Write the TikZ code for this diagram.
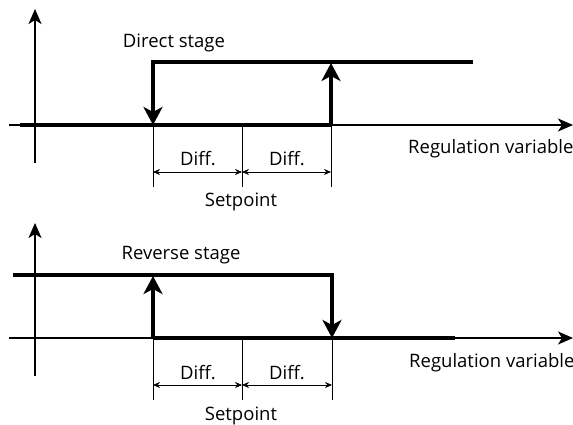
\documentclass[tikz,border=0pt]{standalone}
\usepackage{fontspec}
\setmainfont{Open Sans}
\usetikzlibrary{arrows.meta}

\tikzset{
  axis/.style={line width=1.7pt,-{Stealth[length=15pt,width=13pt,inset=4pt]}},
  stage/.style={line width=3.6pt,line join=miter,-{Stealth[length=18pt,width=19pt,inset=5pt]}},
  level/.style={line width=3.6pt},
  mark line/.style={line width=0.6pt},
  dim/.style={line width=0.6pt,{Stealth[length=7pt,width=6pt]}-{Stealth[length=7pt,width=6pt]}},
  lbl/.style={font=\fontsize{18.5}{21}\selectfont,inner sep=0pt}
}

\begin{document}
\begin{tikzpicture}[x=1pt,y=-1pt]
  \useasboundingbox (0,0) rectangle (573,425);

  % ---- direct stage ----
  \coordinate (dYlo) at (35,163);
  \coordinate (dYhi) at (35,9);
  \coordinate (dXlo) at (9,125);
  \coordinate (dXhi) at (573,125);
  \draw[axis] (dYlo) -- (dYhi);
  \draw[axis] (dXlo) -- (dXhi);
  \coordinate (dOff) at (153,125);
  \coordinate (dSet) at (242,125);
  \coordinate (dOn)  at (331,125);
  \draw[level] (20,125) -- (dOn);
  \draw[stage] (473,62) -- (153,62) -- (dOff);
  \draw[stage] (dOn) -- (331,63);
  % marks
  \foreach \p/\q in {dOff/153,dSet/242,dOn/331}
    \draw[mark line] (\p) -- (\q,187) coordinate (\p b);
  \draw[dim] (153,172) coordinate (dA) -- (242,172) coordinate (dB);
  \draw[dim] (dB) -- (331,172) coordinate (dC);
  \node[lbl] (dDiffA) at (198,159) {Diff.};
  \node[lbl] (dDiffB) at (287,159) {Diff.};
  \node[lbl] (dSetp) at (241,202) {Setpoint};
  \node[lbl] (dTitle) at (174,43) {Direct stage};
  \node[lbl,anchor=west] (dVar) at (408,149) {Regulation variable};

  % ---- reverse stage ----
  \coordinate (rYlo) at (35,376);
  \coordinate (rYhi) at (35,223);
  \coordinate (rXlo) at (9,338);
  \coordinate (rXhi) at (573,338);
  \draw[axis] (rYlo) -- (rYhi);
  \draw[axis] (rXlo) -- (rXhi);
  \coordinate (rOn)  at (153,338);
  \coordinate (rSet) at (242,338);
  \coordinate (rOff) at (332,338);
  \draw[level] (rOn) -- (455,338);
  \draw[stage] (13,275) -- (332,275) -- (rOff);
  \draw[stage] (rOn) -- (153,276);
  % marks
  \foreach \p/\q in {rOn/153,rSet/242,rOff/332}
    \draw[mark line] (\p) -- (\q,400) coordinate (\p b);
  \draw[dim] (153,385) coordinate (rA) -- (242,385) coordinate (rB);
  \draw[dim] (rB) -- (332,385) coordinate (rC);
  \node[lbl] (rDiffA) at (198,373) {Diff.};
  \node[lbl] (rDiffB) at (287,373) {Diff.};
  \node[lbl] (rSetp) at (241,416) {Setpoint};
  \node[lbl] (rTitle) at (181,255) {Reverse stage};
  \node[lbl,anchor=west] (rVar) at (409,363) {Regulation variable};
\end{tikzpicture}
\end{document}
